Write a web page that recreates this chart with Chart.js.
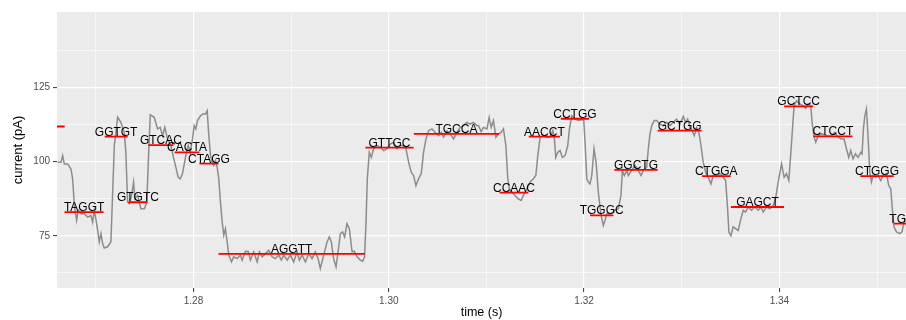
<!DOCTYPE html>
<html>
<head>
<meta charset="utf-8">
<script src="https://cdn.jsdelivr.net/npm/chart.js@4.4.1/dist/chart.umd.min.js"></script>
<style>
  html, body { margin: 0; padding: 0; background: #fff; }
  #squiggle { display: block; }
</style>
</head>
<body>
<canvas id="squiggle" width="906" height="320"></canvas>
<script>
// raw current trace (time in s, current in pA)
const signalTime = [
  1.26609, 1.26643, 1.26660, 1.26677, 1.26711, 1.26745, 1.26762, 1.26780, 1.26803, 1.26820,
  1.26847, 1.26882, 1.26916, 1.26949, 1.26967, 1.26984, 1.27011, 1.27035, 1.27052, 1.27069,
  1.27086, 1.27120, 1.27154, 1.27171, 1.27189, 1.27223, 1.27256, 1.27291, 1.27307, 1.27325,
  1.27342, 1.27366, 1.27386, 1.27400, 1.27427, 1.27461, 1.27496, 1.27522, 1.27537, 1.27557,
  1.27598, 1.27632, 1.27659, 1.27683, 1.27706, 1.27734, 1.27768, 1.27795, 1.27819, 1.27843,
  1.27864, 1.27887, 1.27921, 1.27946, 1.27966, 1.27990, 1.28007, 1.28024, 1.28041, 1.28072,
  1.28095, 1.28123, 1.28140, 1.28157, 1.28174, 1.28191, 1.28208, 1.28225, 1.28242, 1.28259,
  1.28276, 1.28294, 1.28310, 1.28327, 1.28345, 1.28361, 1.28389, 1.28412, 1.28447, 1.28481,
  1.28498, 1.28532, 1.28560, 1.28583, 1.28617, 1.28652, 1.28675, 1.28703, 1.28737, 1.28770,
  1.28805, 1.28839, 1.28873, 1.28900, 1.28924, 1.28959, 1.28992, 1.29026, 1.29061, 1.29084,
  1.29112, 1.29146, 1.29180, 1.29214, 1.29248, 1.29276, 1.29299, 1.29333, 1.29368, 1.29391,
  1.29412, 1.29435, 1.29460, 1.29486, 1.29504, 1.29527, 1.29548, 1.29572, 1.29596, 1.29624,
  1.29647, 1.29675, 1.29708, 1.29732, 1.29752, 1.29767, 1.29780, 1.29800, 1.29821, 1.29844,
  1.29879, 1.29913, 1.29947, 1.29982, 1.30015, 1.30049, 1.30084, 1.30118, 1.30151, 1.30176,
  1.30203, 1.30230, 1.30254, 1.30278, 1.30305, 1.30332, 1.30356, 1.30381, 1.30407, 1.30442,
  1.30476, 1.30509, 1.30537, 1.30561, 1.30595, 1.30629, 1.30663, 1.30698, 1.30731, 1.30765,
  1.30800, 1.30834, 1.30867, 1.30902, 1.30919, 1.30946, 1.30970, 1.31005, 1.31028, 1.31049,
  1.31072, 1.31097, 1.31123, 1.31151, 1.31174, 1.31199, 1.31219, 1.31236, 1.31260, 1.31294,
  1.31322, 1.31355, 1.31379, 1.31414, 1.31448, 1.31481, 1.31506, 1.31526, 1.31550, 1.31584,
  1.31618, 1.31652, 1.31680, 1.31696, 1.31710, 1.31731, 1.31754, 1.31778, 1.31806, 1.31833,
  1.31850, 1.31874, 1.31908, 1.31942, 1.31976, 1.31997, 1.32010, 1.32028, 1.32044, 1.32061,
  1.32079, 1.32102, 1.32123, 1.32146, 1.32174, 1.32197, 1.32215, 1.32232, 1.32266, 1.32300,
  1.32317, 1.32351, 1.32378, 1.32392, 1.32412, 1.32437, 1.32453, 1.32488, 1.32522, 1.32555,
  1.32583, 1.32607, 1.32641, 1.32658, 1.32675, 1.32693, 1.32719, 1.32744, 1.32777, 1.32811,
  1.32846, 1.32880, 1.32913, 1.32948, 1.32982, 1.33016, 1.33040, 1.33061, 1.33084, 1.33108,
  1.33128, 1.33153, 1.33176, 1.33197, 1.33220, 1.33245, 1.33272, 1.33299, 1.33323, 1.33357,
  1.33391, 1.33425, 1.33450, 1.33470, 1.33483, 1.33504, 1.33527, 1.33552, 1.33578, 1.33606,
  1.33630, 1.33654, 1.33681, 1.33715, 1.33749, 1.33783, 1.33811, 1.33834, 1.33869, 1.33903,
  1.33936, 1.33961, 1.33988, 1.34022, 1.34049, 1.34073, 1.34097, 1.34125, 1.34151, 1.34176,
  1.34210, 1.34243, 1.34268, 1.34295, 1.34322, 1.34335, 1.34356, 1.34373, 1.34397, 1.34432,
  1.34465, 1.34499, 1.34534, 1.34568, 1.34601, 1.34636, 1.34663, 1.34687, 1.34711, 1.34731,
  1.34755, 1.34779, 1.34806, 1.34834, 1.34847, 1.34861, 1.34875, 1.34892, 1.34908, 1.34926,
  1.34943, 1.34960, 1.34984, 1.35011, 1.35038, 1.35062, 1.35097, 1.35120, 1.35141, 1.35154,
  1.35174, 1.35199, 1.35233, 1.35256, 1.35277, 1.35294
];
const signalCurrent = [
  99.8, 99.8, 102.0, 99.2, 99.2, 97.5, 94.2, 85.2, 80.2, 83.6,
  82.4, 82.4, 81.3, 81.8, 79.6, 83.6, 78.5, 72.9, 75.7, 72.4,
  70.9, 71.3, 72.9, 88.6, 105.4, 114.9, 113.2, 109.8, 103.1, 86.3,
  85.8, 88.6, 93.1, 87.5, 88.6, 84.1, 84.1, 86.3, 99.8, 115.7,
  114.9, 111.0, 111.5, 108.7, 111.5, 107.6, 105.4, 101.4, 98.1, 94.7,
  94.2, 95.9, 102.0, 105.4, 103.1, 107.6, 112.1, 111.0, 113.8, 115.4,
  116.0, 116.0, 117.1, 108.7, 102.0, 99.8, 98.7, 100.3, 98.1, 94.2,
  86.3, 79.6, 75.2, 77.4, 72.9, 68.5, 66.2, 67.9, 67.3, 68.5,
  66.8, 69.8, 69.7, 66.8, 69.6, 66.2, 69.6, 67.9, 69.0, 70.1,
  67.9, 67.3, 68.5, 66.8, 68.5, 66.8, 68.5, 66.2, 69.6, 66.8,
  68.5, 66.2, 69.0, 67.3, 69.6, 67.3, 64.0, 68.5, 72.9, 74.6,
  72.9, 67.3, 64.5, 71.0, 75.7, 76.3, 74.6, 79.1, 77.4, 69.6,
  69.8, 67.9, 66.8, 66.4, 67.9, 79.6, 94.2, 103.1, 101.4, 104.3,
  105.4, 104.8, 103.7, 104.3, 105.9, 106.5, 104.3, 105.4, 105.4, 104.3,
  99.8, 96.4, 95.3, 91.9, 94.2, 95.9, 103.1, 107.6, 110.4, 111.0,
  109.8, 108.7, 109.8, 108.2, 110.4, 109.3, 107.6, 109.8, 111.5, 112.1,
  113.2, 112.6, 113.2, 112.1, 112.1, 110.1, 111.5, 111.0, 114.9, 111.5,
  113.8, 108.2, 109.3, 109.8, 111.0, 105.4, 94.2, 90.8, 89.7, 88.6,
  87.5, 86.9, 88.6, 90.8, 93.1, 94.2, 95.3, 102.0, 108.2, 108.7,
  108.2, 108.2, 110.4, 107.6, 101.4, 103.1, 103.7, 101.4, 102.0, 105.4,
  111.0, 115.4, 114.3, 113.8, 114.1, 113.8, 106.5, 94.2, 93.1, 92.5,
  95.3, 104.3, 99.8, 89.7, 81.9, 78.5, 80.2, 82.4, 82.4, 83.0,
  83.6, 84.1, 88.6, 97.0, 95.3, 97.0, 95.3, 97.0, 98.7, 97.0,
  95.3, 97.0, 98.1, 104.3, 109.3, 112.1, 113.8, 113.8, 112.6, 112.1,
  113.2, 112.1, 113.2, 114.3, 112.6, 115.2, 113.2, 114.3, 111.5, 110.4,
  108.7, 111.5, 109.8, 105.4, 99.8, 96.4, 94.7, 92.5, 95.3, 95.3,
  95.9, 94.7, 93.6, 84.1, 76.3, 75.0, 78.0, 77.4, 76.8, 80.7,
  83.6, 83.0, 84.7, 83.6, 84.7, 83.6, 84.7, 83.0, 84.7, 84.1,
  85.2, 87.5, 93.1, 99.2, 94.7, 95.9, 93.6, 106.5, 118.8, 120.5,
  119.4, 118.8, 117.9, 119.4, 118.8, 113.2, 108.2, 106.5, 108.7, 109.3,
  109.0, 108.5, 108.7, 109.8, 108.2, 107.6, 107.6, 104.3, 101.4, 103.7,
  100.9, 102.6, 101.4, 103.1, 102.6, 111.0, 115.4, 117.7, 108.7, 96.4,
  93.1, 95.3, 94.7, 95.3, 93.6, 95.3, 95.9, 91.9, 90.8, 85.2,
  78.0, 76.3, 75.7, 76.3, 79.6, 80.7
];

// event segments (k-mer, start, end, mean level)
const segLabel = ['', 'TAGGT', 'GGTGT', 'GTGTC', 'GTCAC', 'CACTA', 'CTAGG', 'AGGTT', 'GTTGC', 'TGCCA',
  'CCAAC', 'AACCT', 'CCTGG', 'TGGGC', 'GGCTG', 'GCTGG', 'CTGGA', 'GAGCT', 'GCTCC', 'CTCCT',
  'CTGGG', 'TGGGT'];
const segStart = [1.26400, 1.26680, 1.27090, 1.27332, 1.27537, 1.27806, 1.28061, 1.28256, 1.29760, 1.30256,
  1.31134, 1.31434, 1.31762, 1.32061, 1.32310, 1.32754, 1.33207, 1.33504, 1.34049, 1.34348,
  1.34829, 1.35174];
const segEnd = [1.26681, 1.27079, 1.27325, 1.27529, 1.27795, 1.28061, 1.28256, 1.29754, 1.30254, 1.31130,
  1.31430, 1.31754, 1.32051, 1.32300, 1.32754, 1.33204, 1.33501, 1.34049, 1.34346, 1.34749,
  1.35171, 1.35516];
const segLevel = [111.8, 83.0, 108.4, 86.3, 105.5, 103.1, 99.3, 68.9, 104.7, 109.3,
  89.5, 108.4, 114.4, 81.9, 97.2, 110.4, 95.1, 84.7, 118.6, 108.5,
  95.1, 79.1];

const xMajorTicks = [1.28, 1.30, 1.32, 1.34];
const xMinorTicks = [1.27, 1.29, 1.31, 1.33, 1.35];
const yMajorTicks = [75, 100, 125];
const yMinorTicks = [62.5, 87.5, 112.5, 137.5];

const FONT = '"Liberation Sans", Arial, Helvetica, sans-serif';
const near = (v, list) => list.some(t => Math.abs(t - v) < 1e-6);

const segPoints = [];
segLabel.forEach((lab, i) => {
    segPoints.push({x: segStart[i], y: segLevel[i]});
    segPoints.push({x: segEnd[i], y: segLevel[i]});
    segPoints.push({x: segEnd[i], y: null});
});

const panelBg = {
    id: 'panelBg',
    beforeDraw(chart) {
        const {ctx, chartArea: a} = chart;
        ctx.save();
        ctx.fillStyle = '#EBEBEB';
        ctx.fillRect(a.left, a.top, a.right - a.left, a.bottom - a.top);
        ctx.restore();
    }
};

const kmerLabels = {
    id: 'kmerLabels',
    afterDatasetsDraw(chart) {
        const {ctx, chartArea: a, scales: {x, y}} = chart;
        ctx.save();
        ctx.beginPath();
        ctx.rect(a.left, a.top, a.right - a.left, a.bottom - a.top);
        ctx.clip();
        ctx.font = '12px ' + FONT;
        ctx.fillStyle = '#000';
        ctx.textAlign = 'center';
        ctx.textBaseline = 'alphabetic';
        segLabel.forEach((lab, i) => {
            if (!lab) return;
            const cx = x.getPixelForValue((segStart[i] + segEnd[i]) / 2);
            const cy = y.getPixelForValue(segLevel[i]) - 1;
            ctx.fillText(lab, cx, cy);
        });
        ctx.restore();
    }
};

const ctx = document.getElementById('squiggle').getContext('2d');
const squiggleChart = new Chart(ctx, {
    type: 'line',
    data: {
        datasets: [
            {
                data: segPoints,
                borderColor: '#FF0000',
                borderWidth: 1.8,
                pointRadius: 0,
                spanGaps: false,
                tension: 0
            },
            {
                data: signalTime.map((t, i) => ({x: t, y: signalCurrent[i]})),
                borderColor: '#8c8c8c',
                borderWidth: 1.5,
                pointRadius: 0,
                tension: 0
            }
        ]
    },
    options: {
        responsive: false,
        animation: false,
        devicePixelRatio: 1,
        layout: { padding: { top: 12, left: 0, right: 0, bottom: 0 } },
        plugins: {
            legend: { display: false },
            tooltip: { enabled: false }
        },
        scales: {
            x: {
                type: 'linear',
                min: 1.26602,
                max: 1.35297,
                afterBuildTicks: s => { s.ticks = xMinorTicks.concat(xMajorTicks).sort((a, b) => a - b).map(v => ({value: v})); },
                afterFit: s => { s.height = 32; },
                border: { display: false },
                grid: {
                    color: '#FFFFFF',
                    lineWidth: c => (c.tick && near(c.tick.value, xMajorTicks)) ? 1.2 : 0.6,
                    tickColor: c => (c.tick && near(c.tick.value, xMajorTicks)) ? '#333333' : 'rgba(0,0,0,0)',
                    tickLength: 4,
                    tickWidth: 1
                },
                ticks: {
                    autoSkip: false,
                    maxRotation: 0,
                    padding: 3,
                    color: '#4D4D4D',
                    font: { size: 10, family: FONT },
                    callback: v => near(v, xMajorTicks) ? v.toFixed(2) : ''
                },
                title: {
                    display: true,
                    text: 'time (s)',
                    color: '#000',
                    font: { size: 12.5, family: FONT },
                    padding: { top: 0, bottom: 0 }
                }
            },
            y: {
                type: 'linear',
                min: 57.42,
                max: 150.35,
                afterBuildTicks: s => { s.ticks = yMinorTicks.concat(yMajorTicks).sort((a, b) => a - b).map(v => ({value: v})); },
                afterFit: s => { s.width = 57; },
                border: { display: false },
                grid: {
                    color: '#FFFFFF',
                    lineWidth: c => (c.tick && near(c.tick.value, yMajorTicks)) ? 1.2 : 0.6,
                    tickColor: c => (c.tick && near(c.tick.value, yMajorTicks)) ? '#333333' : 'rgba(0,0,0,0)',
                    tickLength: 4,
                    tickWidth: 1
                },
                ticks: {
                    autoSkip: false,
                    padding: 3,
                    color: '#4D4D4D',
                    font: { size: 10, family: FONT },
                    callback: v => near(v, yMajorTicks) ? String(v) : ''
                },
                title: {
                    display: true,
                    text: 'current (pA)',
                    color: '#000',
                    font: { size: 13, family: FONT },
                    padding: { top: 10.2, bottom: 0 }
                }
            }
        }
    },
    plugins: [panelBg, kmerLabels]
});
</script>
</body>
</html>
